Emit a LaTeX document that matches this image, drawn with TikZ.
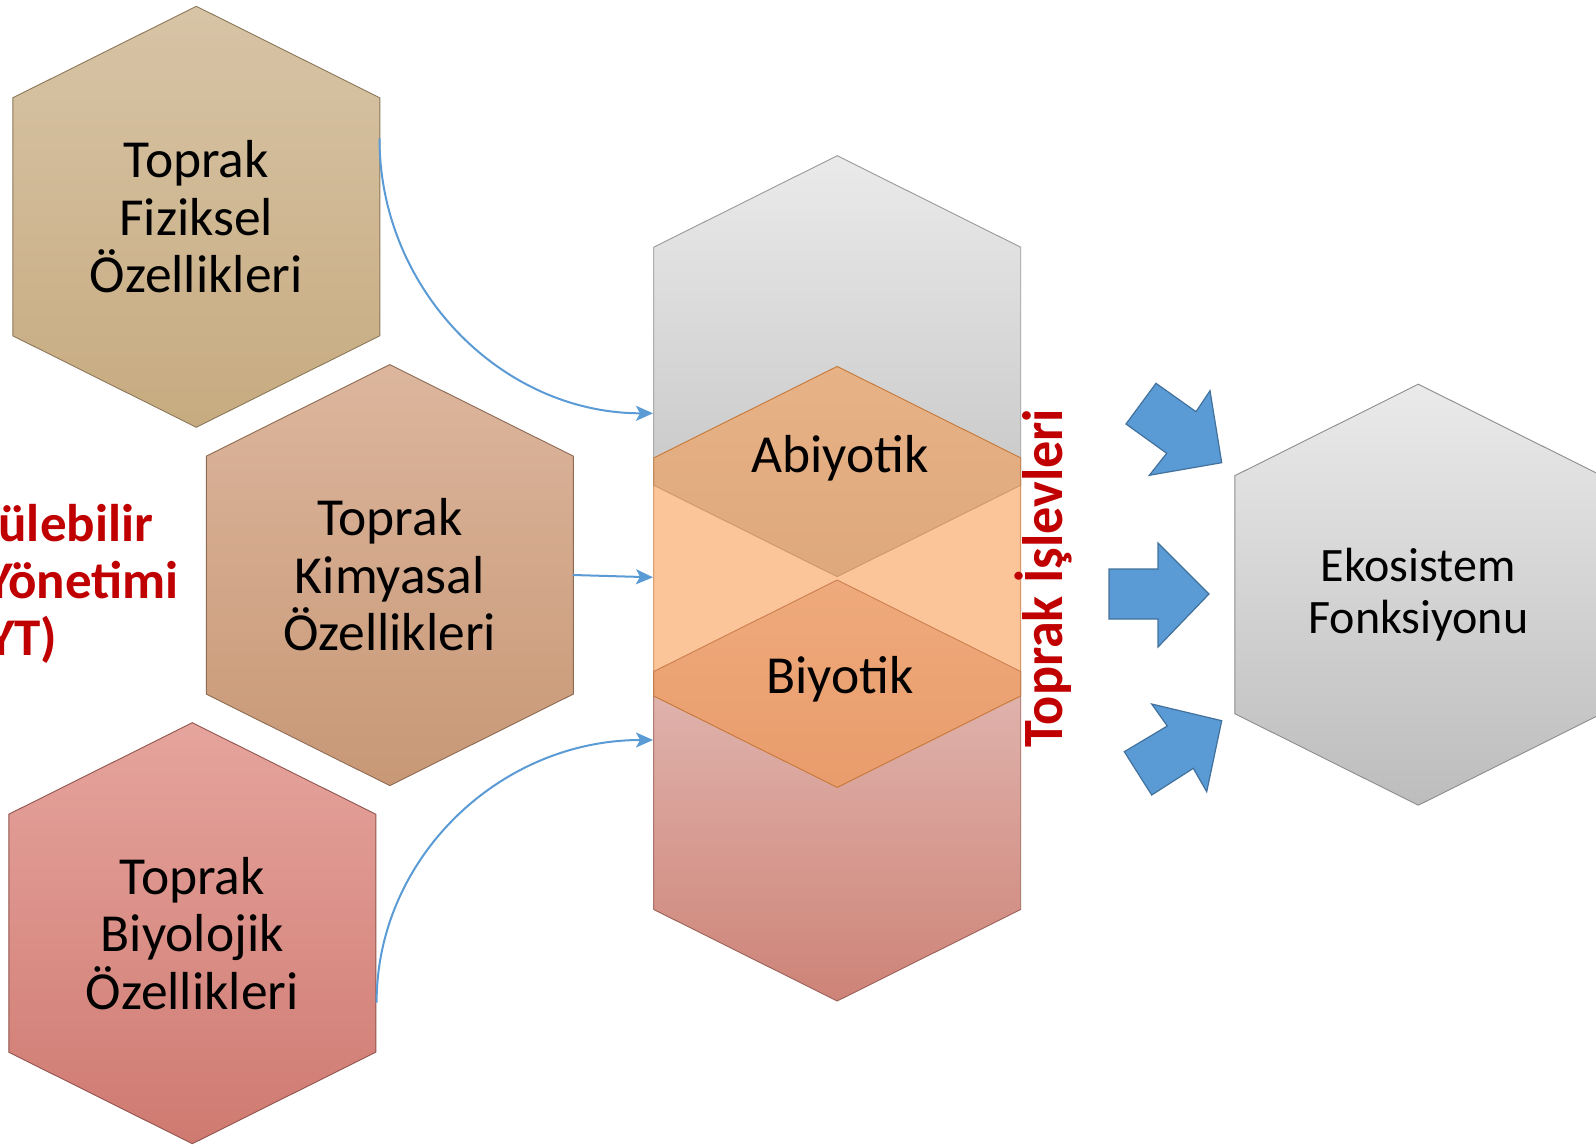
\documentclass[tikz,border=0pt]{standalone}
\usepackage{fontspec}
\setmainfont{Carlito}
\newfontfamily\sidefont[FakeStretch=0.95]{Carlito}
\usepackage{tikz}
\usetikzlibrary{arrows.meta}

\definecolor{fizTop}{RGB}{215,196,166}
\definecolor{fizBot}{RGB}{199,171,128}
\definecolor{kimTop}{RGB}{220,182,157}
\definecolor{kimBot}{RGB}{200,152,118}
\definecolor{bioTop}{RGB}{229,164,157}
\definecolor{bioBot}{RGB}{207,122,113}
\definecolor{grayTop}{RGB}{234,234,234}
\definecolor{grayBot}{RGB}{192,192,192}
\definecolor{redTop}{RGB}{229,196,191}
\definecolor{redBot}{RGB}{206,131,119}
\definecolor{peach}{RGB}{247,150,70}
\definecolor{lineBlue}{RGB}{91,155,213}
\definecolor{edgeBlue}{RGB}{65,113,156}
\definecolor{titleRed}{RGB}{192,0,0}

\begin{document}
\begin{tikzpicture}[x=1pt,y=-1pt,
    hexa/.style={line width=0.9pt,
        insert path={(0,-210.5) -- (183.5,-119) -- (183.5,119) -- (0,210.5)
                     -- (-183.5,119) -- (-183.5,-119) -- cycle}},
    hextext/.style={align=center, font=\fontsize{53.5}{57.5}\selectfont},
    link/.style={lineBlue, line width=2pt, -{Stealth[length=17pt,width=15pt,inset=4pt]}},
    bigarrow/.style={fill=lineBlue, draw=edgeBlue, line width=1.2pt}]
    \useasboundingbox (0,0) rectangle (1596,1148);

    % Left column of properties
    \draw [shift={(196.3,216.8)}, draw=fizBot!70!black, top color=fizTop, bottom color=fizBot, hexa];
    \node (fiz) [hextext] at (196.3,216.8) {Toprak\\Fiziksel\\Özellikleri};
    \coordinate (fiz-out) at (379.5,138.3);

    \draw [shift={(389.8,575.1)}, draw=kimBot!70!black, top color=kimTop, bottom color=kimBot, hexa];
    \node (kim) [hextext] at (389.8,575.1) {Toprak\\Kimyasal\\Özellikleri};
    \coordinate (kim-out) at (573,575);

    \draw [shift={(192.3,933.2)}, draw=bioBot!70!black, top color=bioTop, bottom color=bioBot, hexa];
    \node (bio) [hextext] at (192.3,933.2) {Toprak\\Biyolojik\\Özellikleri};
    \coordinate (bio-out) at (376.6,1002.6);

    % Title, cut at the left border
    \node (syt) [align=center, text=titleRed, font=\bfseries\fontsize{53}{57}\selectfont] at (2,584)
        {Sürdürülebilir\\Toprak Yönetimi\\(SYT)};

    % Middle column: three stacked hexagons
    \draw [shift={(837.2,366.2)}, draw=black!40, top color=grayTop, bottom color=grayBot, hexa];
    \draw [shift={(837.2,790.5)}, draw=redBot!75!black, top color=redTop, bottom color=redBot, hexa];
    \draw [shift={(837.2,576.9)}, draw=peach!80!black, fill=peach, fill opacity=0.55, hexa];
    \node (abio) [anchor=base, font=\fontsize{53.5}{60}\selectfont] at (840,472) {Abiyotik};
    \node (bioz) [anchor=base, font=\fontsize{53.5}{60}\selectfont] at (840,693) {Biyotik};
    \coordinate (col-in1) at (653,413.3);
    \coordinate (col-in2) at (653,577.3);
    \coordinate (col-in3) at (653,740);

    \node (islev) [rotate=90, anchor=base, text=titleRed, font=\sidefont\bfseries\fontsize{57}{60}\selectfont]
        at (1062,578) {Toprak İşlevleri};

    % Links into the column
    \draw [link] (fiz-out) .. controls (379.5,290) and (502,413.3) .. (col-in1);
    \draw [link] (kim-out) -- (col-in2);
    \draw [link] (bio-out) .. controls (376.6,857.6) and (500,740) .. (col-in3);

    % Block arrows
    \draw [bigarrow] (1126,424) -- (1156,383.3) -- (1196,411.7) -- (1210,390.7)
        -- (1221.7,462.7) -- (1149.3,475.3) -- (1166.7,453.3) -- cycle;
    \draw [bigarrow] (1109,569) -- (1158,569) -- (1158,543) -- (1209,594)
        -- (1158,647) -- (1158,619) -- (1109,619) -- cycle;
    \draw [bigarrow] (1124.3,751.7) -- (1167.3,726) -- (1151.7,704) -- (1221.7,720.7)
        -- (1206.7,791.7) -- (1193.3,768.3) -- (1151.7,795) -- cycle;

    % Ecosystem function
    \draw [shift={(1418.3,594.7)}, draw=black!45, top color=grayTop, bottom color=black!26, hexa];
    \node (eko) [align=center, font=\fontsize{48}{52}\selectfont] at (1418.3,594.7) {Ekosistem\\Fonksiyonu};
\end{tikzpicture}
\end{document}
